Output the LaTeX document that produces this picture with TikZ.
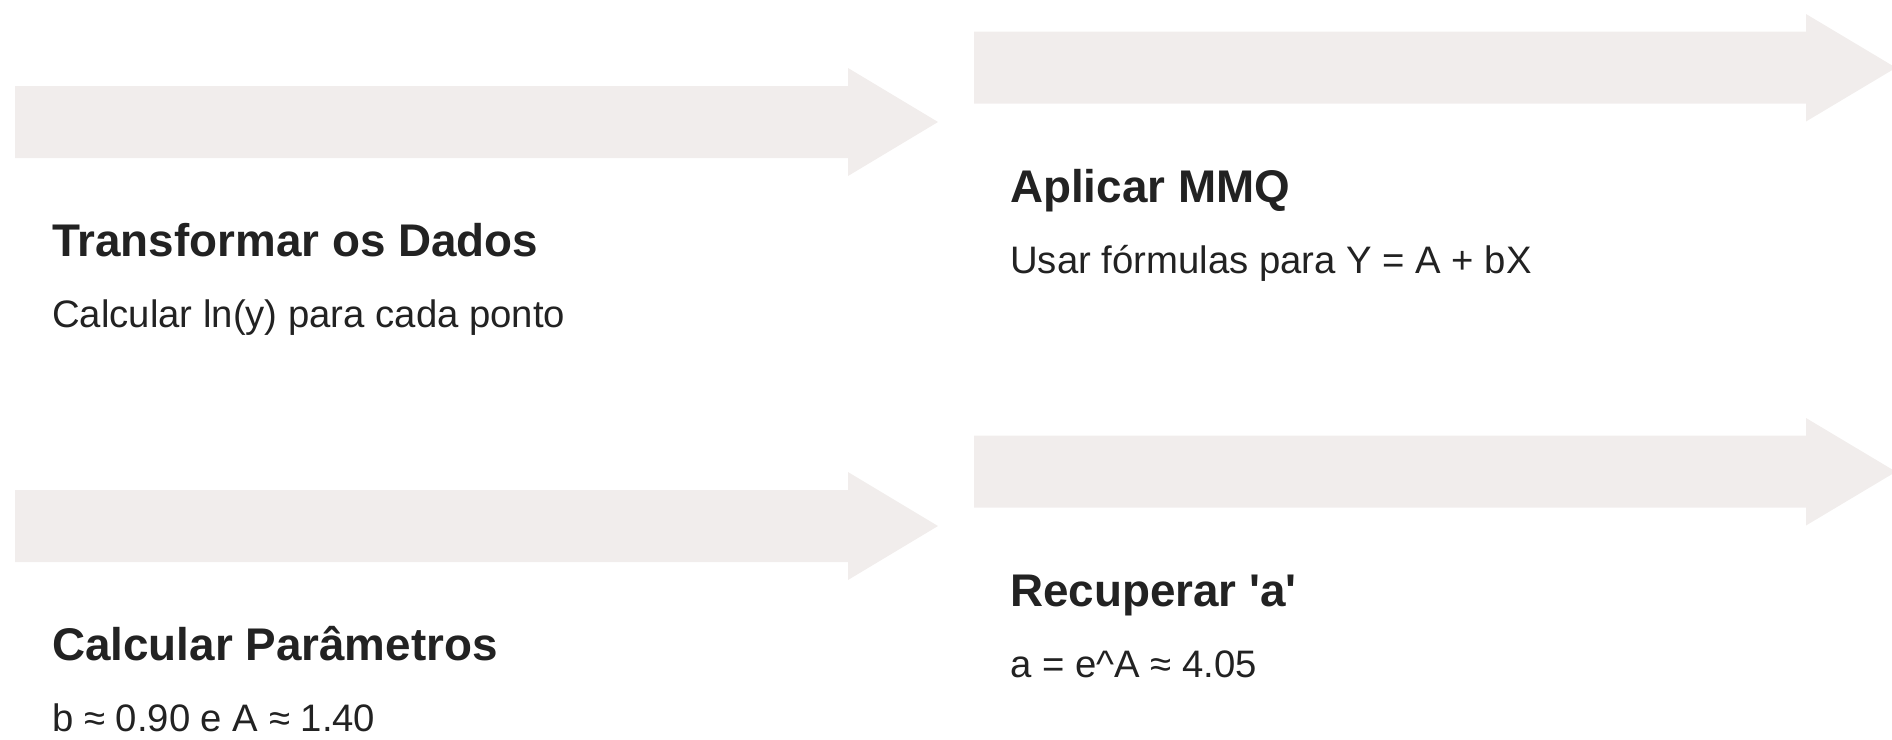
\documentclass[tikz,border=0pt]{standalone}
\usepackage{fontspec}
\setmainfont{Liberation Sans}
\definecolor{arrowfill}{RGB}{241,237,236}
\definecolor{ink}{RGB}{34,34,34}
\tikzset{
  flowarrow/.style={fill=arrowfill, draw=none},
  steptitle/.style={anchor=base west, inner sep=0pt, text=ink, font=\fontsize{45.8}{54}\selectfont\bfseries},
  stepbody/.style={anchor=base west, inner sep=0pt, text=ink, font=\fontsize{38.3}{46}\selectfont},
}
\begin{document}
\begin{tikzpicture}[x=1pt,y=-1pt]
\useasboundingbox (0,0) rectangle (1892,739);
\clip (0,0) rectangle (1892,739);
% arrows
\fill[flowarrow] (15,86) -- (848,86) -- (848,68) -- (938,122) -- (848,176) -- (848,158) -- (15,158) -- cycle;
\fill[flowarrow] (974,31.5) -- (1806,31.5) -- (1806,14) -- (1896,67.75) -- (1806,121.5) -- (1806,103.5) -- (974,103.5) -- cycle;
\fill[flowarrow] (15,490) -- (848,490) -- (848,472) -- (938,526) -- (848,580) -- (848,562) -- (15,562) -- cycle;
\fill[flowarrow] (974,435.5) -- (1806,435.5) -- (1806,418) -- (1896,471.75) -- (1806,525.5) -- (1806,507.5) -- (974,507.5) -- cycle;
% texts
\node[steptitle] (t1) at (52,256) {Transformar os Dados};
\node[stepbody] (b1) at (52,327) {Calcular ln(y) para cada ponto};
\node[steptitle] (t2) at (1010,202) {Aplicar MMQ};
\node[stepbody] (b2) at (1010,273) {Usar fórmulas para Y = A + bX};
\node[steptitle] (t3) at (52,660) {Calcular Parâmetros};
\node[stepbody] (b3) at (52,731) {b ≈ 0.90 e A ≈ 1.40};
\node[steptitle] (t4) at (1010,606) {Recuperar \textquotesingle a\textquotesingle};
\node[stepbody] (b4) at (1010,677) {a = e\^{}A ≈ 4.05};
\end{tikzpicture}
\end{document}
